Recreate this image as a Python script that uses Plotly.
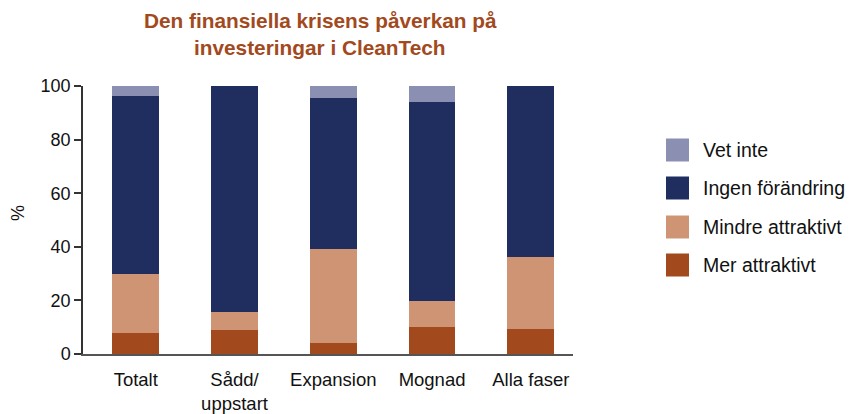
import plotly.graph_objects as go

categories = ["Totalt", "Sådd/<br>uppstart", "Expansion", "Mognad", "Alla faser"]
mer_attraktivt = [8.0, 9.1, 4.2, 10.2, 9.4]
mindre_attraktivt = [21.9, 6.7, 35.1, 9.7, 26.9]
ingen_forandring = [66.4, 84.2, 56.2, 74.1, 63.7]
vet_inte = [3.7, 0.0, 4.5, 6.0, 0.0]

series_names = ["Mer attraktivt", "Mindre attraktivt", "Ingen förändring", "Vet inte"]
series_values = [mer_attraktivt, mindre_attraktivt, ingen_forandring, vet_inte]
colors = ["#A2491D", "#CE9473", "#1F2D5F", "#8B8FB1"]

yticks = [0, 20, 40, 60, 80, 100]
title_lines = ["Den finansiella krisens påverkan på", "investeringar i CleanTech"]

FONT = "Liberation Sans, Arial, Helvetica, sans-serif"
L, R, T, B = 83, 278, 86, 60
W, H = 851, 414
PW, PH = W - L - R, H - T - B


def px_x(p):
    return (p - L) / PW


def px_y(p):
    return (H - B - p) / PH


fig = go.Figure()
for name, vals, col in zip(series_names, series_values, colors):
    fig.add_trace(go.Bar(
        x=list(range(len(categories))), y=vals, name=name,
        marker=dict(color=col, line=dict(width=0)),
        width=0.473, showlegend=False,
    ))

# legend drawn as shapes + annotations (top to bottom: reverse order)
leg_centers = [150, 188, 227, 265]
for cy, name, col in zip(leg_centers, series_names[::-1], colors[::-1]):
    fig.add_shape(type="rect", xref="paper", yref="paper",
                  x0=px_x(666), x1=px_x(689), y0=px_y(cy + 11.5), y1=px_y(cy - 11.5),
                  fillcolor=col, line=dict(width=0))
    fig.add_annotation(xref="paper", yref="paper", x=px_x(701), y=px_y(cy),
                       xanchor="left", yanchor="middle", showarrow=False,
                       text=name, font=dict(family=FONT, size=19.5, color="#111111"))

fig.add_annotation(xref="paper", yref="paper", x=px_x(18), y=px_y(213),
                   text="%", textangle=-90, showarrow=False,
                   xanchor="center", yanchor="middle",
                   font=dict(family=FONT, size=18, color="#111111"))

for cy, line in zip([20, 47], title_lines):
    fig.add_annotation(xref="paper", yref="paper", x=px_x(320), y=px_y(cy),
                       text="<b>" + line + "</b>", showarrow=False,
                       xanchor="center", yanchor="middle",
                       font=dict(family=FONT, size=20.8, color="#A2491D"))

fig.update_layout(
    barmode="stack",
    width=W, height=H,
    margin=dict(l=L, r=R, t=T, b=B, autoexpand=False),
    paper_bgcolor="white", plot_bgcolor="white",
    font=dict(family=FONT, size=18, color="#111111"),
    xaxis=dict(range=[-0.534, 4.427], tickvals=list(range(len(categories))),
               ticktext=categories, showgrid=False, zeroline=False,
               showline=True, linecolor="#555555", linewidth=2,
               ticks="", ticklabelstandoff=8, automargin=False,
               tickfont=dict(family=FONT, size=18.5, color="#111111")),
    yaxis=dict(range=[0, 100], tickvals=yticks, showgrid=False, zeroline=False,
               showline=True, linecolor="#333333", linewidth=1.5,
               ticks="outside", ticklen=7, tickcolor="#333333", tickwidth=1.5,
               automargin=False,
               tickfont=dict(family=FONT, size=18, color="#111111")),
)

fig.write_html("out.html", config={"displayModeBar": False},
               post_script="document.body.style.margin='0';document.body.style.overflow='hidden';")
